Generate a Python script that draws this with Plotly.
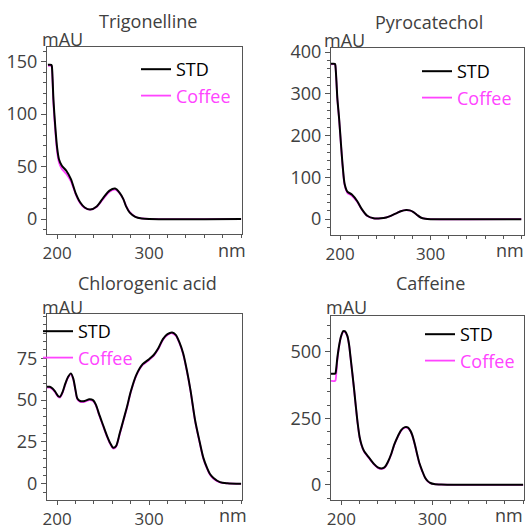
import plotly.graph_objects as go

W, H = 527, 531

# ---------------- data ----------------
tri_nm = [190, 193.6, 194.2, 195, 196, 198, 200, 202, 205, 210, 215, 220, 225, 230, 236, 243, 250, 257, 263, 268, 272, 275, 279, 285, 292, 300, 400]
tri_std = [147, 147, 146, 135, 114, 88, 68, 57, 51, 46, 38, 25, 16, 11, 9, 12, 20, 27, 29, 25, 19, 12, 6, 2, 0.5, 0, 0]
tri_cof = [146, 146, 145, 132, 110, 84, 64, 54, 48, 43, 36, 24, 15, 10.5, 9, 11.5, 19, 26, 28, 24.5, 19, 12.5, 6.5, 2.2, 0.5, 0, 0]

pyr_nm = [190, 194.2, 194.7, 196, 197, 199, 201, 203, 205, 208, 213, 219, 224, 230, 237, 245, 251, 256, 262, 267, 273, 277, 281, 285, 289, 294, 300, 400]
pyr_std = [372, 372, 370, 330, 290, 240, 180, 125, 85, 66, 59, 43, 24, 8, 2, 2, 4, 8, 14, 19, 22, 21, 17, 10, 4, 1, 0, 0]
pyr_cof = [371, 371, 369, 328, 288, 238, 178, 122, 82, 63, 56, 41, 23, 7.5, 2, 2, 4, 8, 14, 19, 21.5, 20.5, 17, 10, 4, 1, 0, 0]

chl_nm = [189, 192, 195, 198, 201, 203, 206, 209, 212, 215, 217.5, 220, 222, 225, 230, 235, 239, 242, 246, 250, 254, 258, 261, 264, 268, 272, 276, 280, 286, 293, 300, 305, 310, 315, 320, 325, 329, 333, 337, 341, 345, 350, 355, 359, 363, 366, 370, 377, 385, 400]
chl_std = [58, 58, 57, 55, 52.5, 52, 55, 60, 64, 66, 63, 56, 51, 49.5, 49.5, 50.5, 50, 47.5, 41, 35, 29, 24, 21.5, 22.5, 30, 38, 46, 55, 65, 71.5, 74.5, 77, 81, 86.5, 89.5, 90.5, 89, 84.5, 78, 68, 56, 38, 25, 15.5, 9.5, 6, 3.5, 1, 0.3, 0]
chl_cof = [57.5, 57.5, 56.5, 54.5, 52, 51.5, 54.5, 59.5, 63.5, 65.5, 62.5, 55.5, 50.5, 49, 49, 50, 49.5, 47, 40.5, 34.5, 28.5, 23.5, 21, 22, 29.5, 37.5, 45.5, 54.5, 64.5, 71, 74, 76.5, 80.5, 86, 89, 90, 88.5, 84, 77.5, 67.5, 55.5, 37.5, 24.5, 15, 9, 5.5, 3, 0.8, 0.2, 0]

caf_nm = [188, 193.0, 193.5, 195.5, 197.5, 199.5, 202, 204, 206.5, 208.5, 210, 212, 214, 216, 218, 220, 222, 225, 229, 232, 236, 240, 245, 248, 251, 255, 258, 262, 266, 270, 273, 276, 278, 281, 283.5, 286, 289, 292, 295, 298, 302, 310, 330, 400]
caf_std = [418, 418, 420, 478, 525, 558, 578, 577, 560, 525, 480, 420, 357, 290, 228, 180, 152, 126, 108, 95, 78, 66, 62, 68, 85, 118, 150, 182, 207, 217, 216, 203, 187, 150, 113, 80, 52, 28, 14, 7, 3, 1, 0, 0]
caf_cof = [391, 391, 393, 470, 522, 556, 576, 575, 558, 523, 478, 418, 355, 288, 226, 178, 150, 124, 106, 93, 76, 64, 60, 66, 83, 116, 148, 180, 205, 215, 214, 201, 185, 148, 111, 78, 50, 27, 13, 6, 2.5, 0.5, 0, 0]

titles = ["Trigonelline", "Pyrocatechol", "Chlorogenic acid", "Caffeine"]
series_names = ["STD", "Coffee"]
x_tickvals = [200, 300]
y_tickvals = [[0, 50, 100, 150], [0, 100, 200, 300, 400], [0, 25, 50, 75], [0, 250, 500]]

# ---------------- layout helpers ----------------
def px_x(p):
    return p / W

def px_y(p):
    return 1 - p / H

# panel frames in pixels: (left, right, top, bottom)
frames = [(47, 242, 47, 234), (331, 524, 48, 235), (47, 242, 314, 500), (331, 524, 316, 500)]
x_ranges = [[189, 401], [190, 403], [189, 401], [188.5, 401]]
y_ranges = [[-14.3, 164], [-38, 410], [-9.7, 101.5], [-57, 635]]
y_minor = [10, 20, 5, 50]

data = [(tri_nm, tri_std, tri_cof), (pyr_nm, pyr_std, pyr_cof),
        (chl_nm, chl_std, chl_cof), (caf_nm, caf_std, caf_cof)]

FONT = "Open Sans"
AXC = "#555555"
TXC = "#404040"
MAG = "#ff44ff"

fig = go.Figure()
layout = dict(width=W, height=H, margin=dict(l=0, r=0, t=0, b=0, autoexpand=False),
              paper_bgcolor="white", plot_bgcolor="white",
              font=dict(family=FONT, size=18, color=TXC), showlegend=True)

legend_pos = [(136, 51), (417, 53), (38, 313), (420, 316)]

annotations = []
for i in range(4):
    n = "" if i == 0 else str(i + 1)
    leg = "legend" if i == 0 else f"legend{i+1}"
    nm, std, cof = data[i]
    fig.add_trace(go.Scatter(x=nm, y=cof, mode="lines", name=series_names[1],
                             line=dict(color=MAG, width=1.8, shape="spline", smoothing=0.8),
                             xaxis="x" + n, yaxis="y" + n, legend=leg, legendrank=2))
    fig.add_trace(go.Scatter(x=nm, y=std, mode="lines", name=series_names[0],
                             line=dict(color="black", width=2, shape="spline", smoothing=0.8),
                             xaxis="x" + n, yaxis="y" + n, legend=leg, legendrank=1))
    l, r, t, b = frames[i]
    axcommon = dict(showline=True, linecolor=AXC, linewidth=1, mirror=True,
                    showgrid=False, zeroline=False, ticks="outside",
                    tickcolor=AXC, automargin=False)
    layout["xaxis" + n] = dict(domain=[px_x(l), px_x(r)], range=x_ranges[i],
                               anchor="y" + n, tickvals=x_tickvals, ticklen=4,
                               tickfont=dict(size=17, color=TXC, family=FONT),
                               minor=dict(dtick=20, tick0=0, ticks="outside", ticklen=3, tickcolor=AXC),
                               **axcommon)
    layout["yaxis" + n] = dict(domain=[px_y(b), px_y(t)], range=y_ranges[i],
                               anchor="x" + n, tickvals=y_tickvals[i], ticklen=5,
                               tickfont=dict(size=18, color=TXC, family=FONT),
                               minor=dict(dtick=y_minor[i], tick0=0, ticks="outside", ticklen=3, tickcolor=AXC),
                               **axcommon)
    lx, ly = legend_pos[i]
    layout[leg] = dict(x=px_x(lx), y=px_y(ly), xanchor="left", yanchor="top",
                       bgcolor="rgba(0,0,0,0)", borderwidth=0, itemwidth=30,
                       font=dict(size=18, family=FONT, color="black"),
                       tracegroupgap=0)

# titles / axis labels (text positions in pixels)
title_pos = [(148, 21), (429, 22), (147, 283), (430, 283)]
mau_pos = [(62, 39), (344, 40), (62, 307), (346, 307)]
nm_pos = [(232, 250), (510, 250), (233, 515), (509, 515)]
for i in range(4):
    tx, ty = title_pos[i]
    annotations.append(dict(text=titles[i], x=px_x(tx), y=px_y(ty), xref="paper", yref="paper",
                            showarrow=False, xanchor="center", yanchor="middle",
                            font=dict(size=18, color=TXC, family=FONT)))
    mx, my = mau_pos[i]
    annotations.append(dict(text="mAU", x=px_x(mx), y=px_y(my), xref="paper", yref="paper",
                            showarrow=False, xanchor="center", yanchor="middle",
                            font=dict(size=18, color=TXC, family=FONT)))
    nx, ny = nm_pos[i]
    annotations.append(dict(text="nm", x=px_x(nx), y=px_y(ny), xref="paper", yref="paper",
                            showarrow=False, xanchor="center", yanchor="middle",
                            font=dict(size=18, color=TXC, family=FONT)))
layout["annotations"] = annotations

fig.update_layout(**layout)
for tr in fig.data:
    if tr.name == "Coffee":
        tr.name = f"<span style='color:{MAG}'>Coffee</span>"

fig.write_html("out.html")
